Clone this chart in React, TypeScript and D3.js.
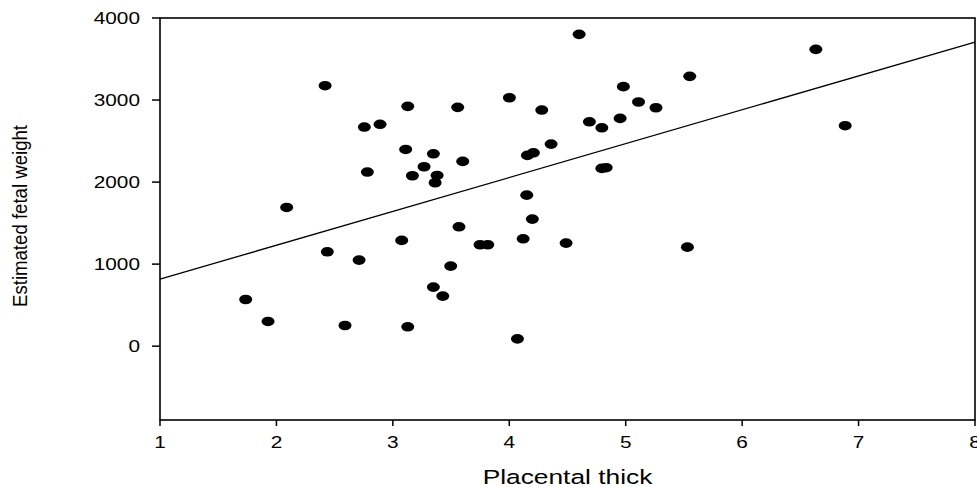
import React from "react";
import * as d3 from "d3";

const xValues = [1.736, 1.928, 2.088, 2.418, 2.437, 2.589, 2.71, 2.755, 2.781, 2.89, 3.076, 3.11, 3.128, 3.128, 3.168, 3.268, 3.348, 3.348, 3.363, 3.38, 3.429, 3.497, 3.557, 3.568, 3.6, 3.749, 3.815, 4.001, 4.07, 4.119, 4.15, 4.156, 4.198, 4.207, 4.279, 4.359, 4.488, 4.6, 4.688, 4.795, 4.795, 4.832, 4.952, 4.98, 5.11, 5.26, 5.53, 5.55, 6.633, 6.885];
const yValues = [569, 301, 1691, 3175, 1150, 252, 1049, 2671, 2122, 2704, 1289, 2398, 2923, 236, 2077, 2187, 2345, 720, 1992, 2081, 610, 976, 2911, 1455, 2252, 1236, 1236, 3028, 89, 1309, 1841, 2325, 1549, 2357, 2878, 2463, 1256, 3801, 2735, 2662, 2167, 2175, 2776, 3163, 2976, 2906, 1207, 3289, 3618, 2687];
const fitX = [1, 8];
const fitY = [817, 3707];
const xTicks = [1, 2, 3, 4, 5, 6, 7, 8];
const yTicks = [0, 1000, 2000, 3000, 4000];
const xDomain = [1, 8];
const yDomain = [-900, 4000];
const xTitle = "Placental thick";
const yTitle = "Estimated fetal weight";

const W = 977;
const H = 487;
const left = 160;
const right = 975;
const top = 18;
const bottom = 420;
const SX = 1.3;
const font = "Arial, 'Liberation Sans', sans-serif";

export default function App() {
  const x = d3.scaleLinear().domain(xDomain).range([left, right]);
  const y = d3.scaleLinear().domain(yDomain).range([bottom, top]);
  const line = d3
    .line<number>()
    .x((d) => x(fitX[d]))
    .y((d) => y(fitY[d]));

  return (
    <svg
      width={W}
      height={H}
      style={{ position: "absolute", left: 0, top: 0, background: "#fff" }}
    >
      <rect x={0} y={0} width={W} height={H} fill="#fff" />
      <rect
        x={left}
        y={top}
        width={right - left}
        height={bottom - top}
        fill="none"
        stroke="#000"
        strokeWidth={1.6}
      />
      {yTicks.map((t) => (
        <g key={"y" + t}>
          <line x1={left - 8} x2={left} y1={y(t)} y2={y(t)} stroke="#000" strokeWidth={1.5} />
          <text
            transform={`translate(${left - 20},${y(t) + 6}) scale(${SX},1)`}
            textAnchor="end"
            fontFamily={font}
            fontSize={16}
            fill="#000"
          >
            {t}
          </text>
        </g>
      ))}
      {xTicks.map((t) => (
        <g key={"x" + t}>
          <line x1={x(t)} x2={x(t)} y1={bottom} y2={bottom + 6} stroke="#000" strokeWidth={1.5} />
          <text
            transform={`translate(${x(t)},${448}) scale(${SX},1)`}
            textAnchor="middle"
            fontFamily={font}
            fontSize={16}
            fill="#000"
          >
            {t}
          </text>
        </g>
      ))}
      <path d={line([0, 1]) || ""} fill="none" stroke="#000" strokeWidth={1.3} />
      {xValues.map((v, i) => (
        <ellipse key={i} cx={x(v)} cy={y(yValues[i])} rx={6.5} ry={4.8} fill="#000" />
      ))}
      <text
        transform={`translate(${(left + right) / 2},${484}) scale(1.35,1)`}
        textAnchor="middle"
        fontFamily={font}
        fontSize={19.5}
        fill="#000"
      >
        {xTitle}
      </text>
      <text
        transform={`translate(27,216) scale(1.2,1) rotate(-90)`}
        textAnchor="middle"
        fontFamily={font}
        fontSize={17}
        textLength={182}
        lengthAdjust="spacingAndGlyphs"
        fill="#000"
      >
        {yTitle}
      </text>
    </svg>
  );
}
